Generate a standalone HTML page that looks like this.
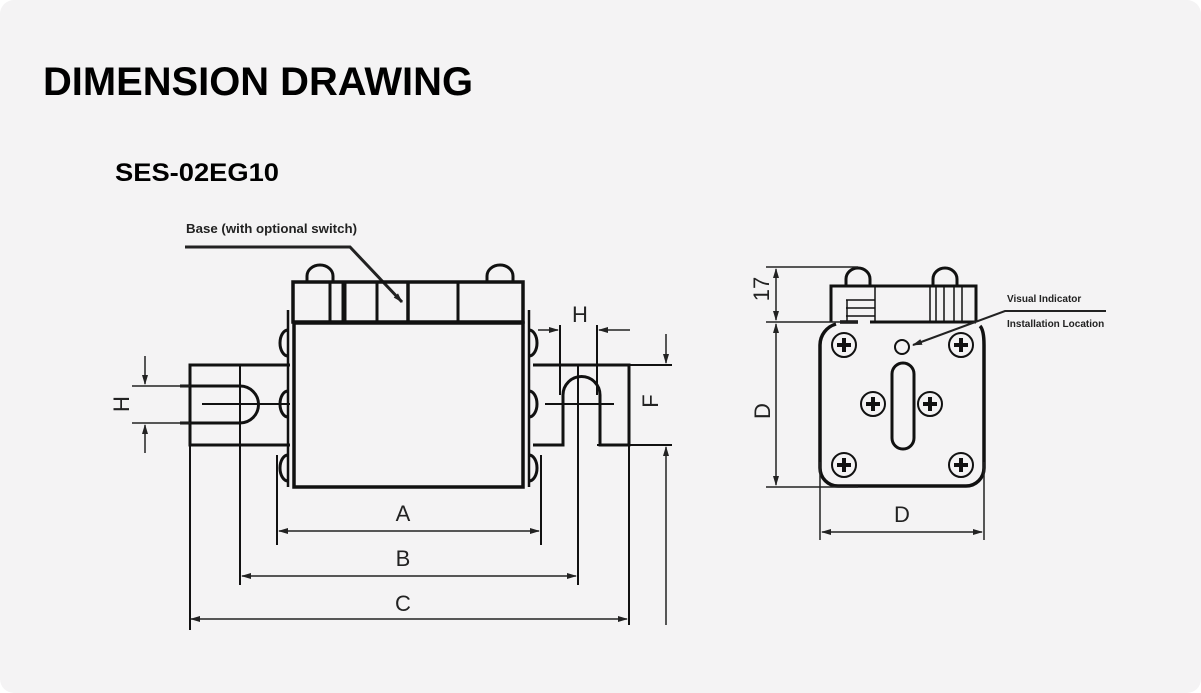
<!DOCTYPE html>
<html><head><meta charset="utf-8"><style>
html,body{margin:0;padding:0;background:#fff;}
svg{display:block;}
text{font-family:"Liberation Sans",Arial,sans-serif;}
</style></head><body>
<svg width="1201" height="693" viewBox="0 0 1201 693" xmlns="http://www.w3.org/2000/svg">
<defs>
<marker id="ar" markerWidth="10" markerHeight="8" refX="9" refY="4" orient="auto-start-reverse" markerUnits="userSpaceOnUse"><path d="M0,1 L10,4 L0,7 z" fill="#222"/></marker>
</defs>
<rect x="0" y="0" width="1201" height="693" rx="14" fill="#f4f3f4"/>
<text x="43" y="95" font-size="40" font-weight="bold" textLength="430" lengthAdjust="spacingAndGlyphs">DIMENSION DRAWING</text>
<text x="115" y="181" font-size="25" font-weight="bold" textLength="164" lengthAdjust="spacingAndGlyphs">SES-02EG10</text>
<text x="186" y="233" font-size="13" font-weight="bold" fill="#222" textLength="171" lengthAdjust="spacingAndGlyphs">Base (with optional switch)</text>
<polyline points="185,247 350,247 402,302" fill="none" stroke="#222" stroke-width="3" marker-end="url(#ar)"/>

<g fill="none" stroke="#111" stroke-width="2">
<path d="M290,365 H190 V445 H290" stroke-width="3"/>
<line x1="240" y1="365" x2="240" y2="585"/>
<path d="M180,386 H240 A18,18 0 0 1 240,423 H180" stroke-width="3"/>
<line x1="202" y1="404" x2="290" y2="404"/>
<line x1="190" y1="445" x2="190" y2="630"/>
<path d="M533,365 H629 V445 H600 V395 A18,18 0 0 0 563,395 V445 H533" stroke-width="3"/>
<line x1="578" y1="365" x2="578" y2="585"/>
<line x1="545" y1="404" x2="614" y2="404"/>
<line x1="629" y1="445" x2="629" y2="625"/>
<line x1="560" y1="325" x2="560" y2="395"/>
<line x1="597" y1="325" x2="597" y2="395"/>
<line x1="597" y1="365" x2="672" y2="365"/>
<line x1="597" y1="445" x2="672" y2="445"/>
<rect x="293" y="282" width="230" height="40" stroke-width="3.5"/>
<line x1="330" y1="282" x2="330" y2="322" stroke-width="3"/>
<line x1="344" y1="282" x2="344" y2="322" stroke-width="5"/>
<line x1="377" y1="282" x2="377" y2="322" stroke-width="3"/>
<line x1="408" y1="282" x2="408" y2="322" stroke-width="3.5"/>
<line x1="458" y1="282" x2="458" y2="322" stroke-width="3"/>
<path d="M307,282 V276 A13,11 0 0 1 333,276 V282" stroke-width="3"/>
<path d="M487,282 V276 A13,11 0 0 1 513,276 V282" stroke-width="3"/>
<rect x="294" y="323" width="229" height="164" stroke-width="3.5"/>
<line x1="288" y1="310" x2="288" y2="487" stroke-width="2.5"/>
<line x1="529" y1="310" x2="529" y2="487" stroke-width="2.5"/>
<path d="M288,330 A8,13 0 0 0 288,356" stroke-width="3"/>
<path d="M288,391 A8,13 0 0 0 288,417" stroke-width="3"/>
<path d="M288,455 A8,13 0 0 0 288,481" stroke-width="3"/>
<path d="M529,330 A8,13 0 0 1 529,356" stroke-width="3"/>
<path d="M529,391 A8,13 0 0 1 529,417" stroke-width="3"/>
<path d="M529,455 A8,13 0 0 1 529,481" stroke-width="3"/>
<line x1="277" y1="455" x2="277" y2="545"/>
<line x1="541" y1="455" x2="541" y2="545"/>
</g>

<g stroke="#222" stroke-width="1.5" fill="none">
<line x1="279" y1="531" x2="539" y2="531" marker-start="url(#ar)" marker-end="url(#ar)"/>
<line x1="242" y1="576" x2="576" y2="576" marker-start="url(#ar)" marker-end="url(#ar)"/>
<line x1="191" y1="619" x2="627" y2="619" marker-start="url(#ar)" marker-end="url(#ar)"/>
<line x1="538" y1="330" x2="558" y2="330" marker-end="url(#ar)"/>
<line x1="630" y1="330" x2="599" y2="330" marker-end="url(#ar)"/>
<line x1="666" y1="334" x2="666" y2="363" marker-end="url(#ar)"/>
<line x1="666" y1="625" x2="666" y2="447" marker-end="url(#ar)"/>
<line x1="145" y1="356" x2="145" y2="384" marker-end="url(#ar)"/>
<line x1="145" y1="453" x2="145" y2="425" marker-end="url(#ar)"/>
<line x1="132" y1="386" x2="190" y2="386"/>
<line x1="132" y1="423" x2="190" y2="423"/>
</g>
<g font-size="22" fill="#222" text-anchor="middle">
<text x="403" y="521">A</text>
<text x="403" y="566">B</text>
<text x="403" y="611">C</text>
<text x="580" y="322">H</text>
<text transform="translate(129,404) rotate(-90)">H</text>
<text transform="translate(658,401) rotate(-90)">F</text>
</g>

<g fill="none" stroke="#111" stroke-width="3">
<path d="M831,322 V286 H976 V322"/>
<line x1="870" y1="322" x2="976" y2="322"/>
<path d="M846,286 V279 A12,11 0 0 1 870,279 V286"/>
<path d="M933,286 V279 A12,11 0 0 1 957,279 V286"/>
<g stroke-width="1.5"><line x1="846" y1="300" x2="875" y2="300"/><line x1="846" y1="308" x2="875" y2="308"/><line x1="846" y1="316" x2="875" y2="316"/><line x1="847" y1="300" x2="847" y2="322"/><line x1="875" y1="286" x2="875" y2="322"/><line x1="930" y1="286" x2="930" y2="322"/><line x1="936" y1="286" x2="936" y2="322"/><line x1="944" y1="286" x2="944" y2="322"/><line x1="954" y1="286" x2="954" y2="322"/><line x1="962" y1="286" x2="962" y2="322"/></g>
<path d="M840,322 H858 M980,326 Q984,330 984,345 V468 A18,18 0 0 1 966,486 H838 A18,18 0 0 1 820,468 V345 A22,22 0 0 1 836,324" stroke-width="3.5"/>
<circle cx="902" cy="347" r="7" stroke-width="2"/>
<rect x="892" y="363" width="22" height="86" rx="11" stroke-width="3"/>
</g>
<g fill="none" stroke="#111" stroke-width="2">
<circle cx="844" cy="345" r="12"/><circle cx="961" cy="345" r="12"/>
<circle cx="873" cy="404" r="12"/><circle cx="930" cy="404" r="12"/>
<circle cx="844" cy="465" r="12"/><circle cx="961" cy="465" r="12"/>
</g>
<g stroke="#111" stroke-width="4">
<path d="M837,345h14M844,338v14 M954,345h14M961,338v14 M866,404h14M873,397v14 M923,404h14M930,397v14 M837,465h14M844,458v14 M954,465h14M961,458v14"/>
</g>
<g stroke="#222" stroke-width="1.5" fill="none">
<line x1="766" y1="267" x2="858" y2="267"/>
<line x1="766" y1="322" x2="858" y2="322"/>
<line x1="766" y1="487" x2="858" y2="487"/>
<line x1="776" y1="269" x2="776" y2="320" marker-start="url(#ar)" marker-end="url(#ar)"/>
<line x1="776" y1="324" x2="776" y2="485" marker-start="url(#ar)" marker-end="url(#ar)"/>
<line x1="820" y1="462" x2="820" y2="540"/>
<line x1="984" y1="462" x2="984" y2="540"/>
<line x1="822" y1="532" x2="982" y2="532" marker-start="url(#ar)" marker-end="url(#ar)"/>
<polyline points="1106,311 1005,311 913,345" stroke-width="2" marker-end="url(#ar)"/>
</g>
<g font-size="22" fill="#222" text-anchor="middle">
<text transform="translate(769,289) rotate(-90)">17</text>
<text transform="translate(770,411) rotate(-90)">D</text>
<text x="902" y="522">D</text>
</g>
<text x="1007" y="302" font-size="10" font-weight="bold" fill="#222">Visual Indicator</text>
<text x="1007" y="327" font-size="10" font-weight="bold" fill="#222">Installation Location</text>
</svg>
</body></html>
